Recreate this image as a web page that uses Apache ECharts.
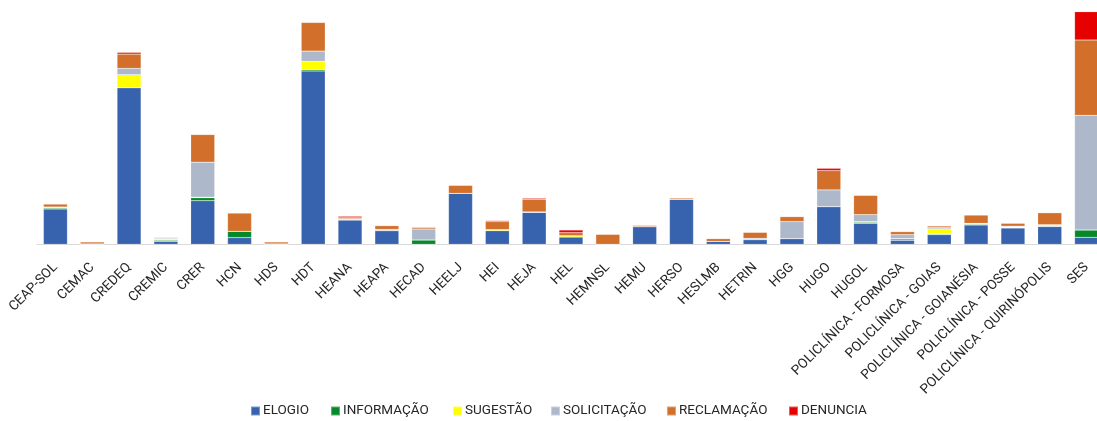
<!DOCTYPE html>
<html><head><meta charset="utf-8">
<script src="https://cdn.jsdelivr.net/npm/echarts@6/dist/echarts.min.js"></script>
<style>html,body{margin:0;padding:0;background:#fff;overflow:hidden}#c{width:1105px;height:421px}</style>
</head><body><div id="c"></div>
<script>
const categories = ['CEAP-SOL','CEMAC','CREDEQ','CREMIC','CRER','HCN','HDS','HDT','HEANA','HEAPA','HECAD','HEELJ','HEI','HEJA','HEL','HEMNSL','HEMU','HERSO','HESLMB','HETRIN','HGG','HUGO','HUGOL','POLICLÍNICA - FORMOSA','POLICLÍNICA - GOIAS','POLICLÍNICA - GOIANÉSIA','POLICLÍNICA - POSSE','POLICLÍNICA - QUIRINÓPOLIS','SES'];
const seriesNames = ['ELOGIO','INFORMAÇÃO','SUGESTÃO','SOLICITAÇÃO','RECLAMAÇÃO','DENUNCIA'];
const elogio      = [35.3,0,156.6,3,43.6,6.7,0,173.3,24.3,13.7,0,51,13.7,32,7.3,0,17.7,45,3,4.7,5.7,37.7,21,4,9.7,19.3,16.3,17.7,7];
const informacao  = [1,0,0,1,3,6.3,0,1.3,0,0,4.3,0,0,0,0,0,0,0,0,0,0,0,1,1.3,0.7,0.8,0.5,0.6,7.3];
const sugestao    = [1,0,13,1,0.5,0,0,8.3,1.3,0,0,0,1,0,1.3,0,0,0,0,0,0,0,0.7,0.4,5,0.9,0.6,1.3,0];
const solicitacao = [0,0.4,6.3,1,35,0,0.4,10.3,0,1.3,11,0,0,0.4,0,0,0,0,0,1.3,17,16.7,7,4,1.3,0,0.7,0,114.7];
const reclamacao  = [3,2,14.3,0.8,27.7,18.3,2,28.7,1.7,3.7,1.7,8,8,12.7,3,10,1.3,1.3,2.7,6,5,19.3,19.3,3,1.7,8.3,3,12,75.3];
const denuncia    = [0,0,1.7,0,0,0,0,0,1,0,0,0,1,1,2.7,0,0,0,0,0,0,2.3,0,0,0,0,0,0,28.3];

const values = [elogio, informacao, sugestao, solicitacao, reclamacao, denuncia];
const colors = ['#3762ae','#06892a','#ffff00','#adb8ca','#d26f2a','#e60000'];
const legendLeft = [250, 330, 452, 550, 666, 788];
const font = "Roboto, 'Liberation Sans', sans-serif";

const chart = echarts.init(document.getElementById('c'), null, {renderer: 'canvas'});
chart.setOption({
  animation: false,
  grid: { left: 37, right: 0, top: 4.3, bottom: 176.7, containLabel: false },
  xAxis: {
    type: 'category', data: categories,
    axisLine: { lineStyle: { color: '#d9d9d9', width: 1 } },
    axisTick: { show: false },
    axisLabel: { interval: 0, rotate: 45, color: '#262626', fontSize: 13.5, fontFamily: font, margin: 21 }
  },
  yAxis: { type: 'value', min: 0, max: 240, show: false, splitLine: { show: false } },
  legend: seriesNames.map((n, i) => ({
    data: [n], left: legendLeft[i], top: 404, itemWidth: 9, itemHeight: 9, itemGap: 0,
    icon: 'rect', padding: 0,
    textStyle: { color: '#262626', fontSize: 13.5, fontFamily: font, padding: [0, 0, 0, -2] }
  })),
  series: seriesNames.map((n, i) => ({
    name: n, type: 'bar', stack: 'total', data: values[i], barWidth: 24,
    itemStyle: { color: colors[i], borderColor: 'rgba(255,255,255,0.35)', borderWidth: 0.5 }
  }))
});
</script></body></html>
